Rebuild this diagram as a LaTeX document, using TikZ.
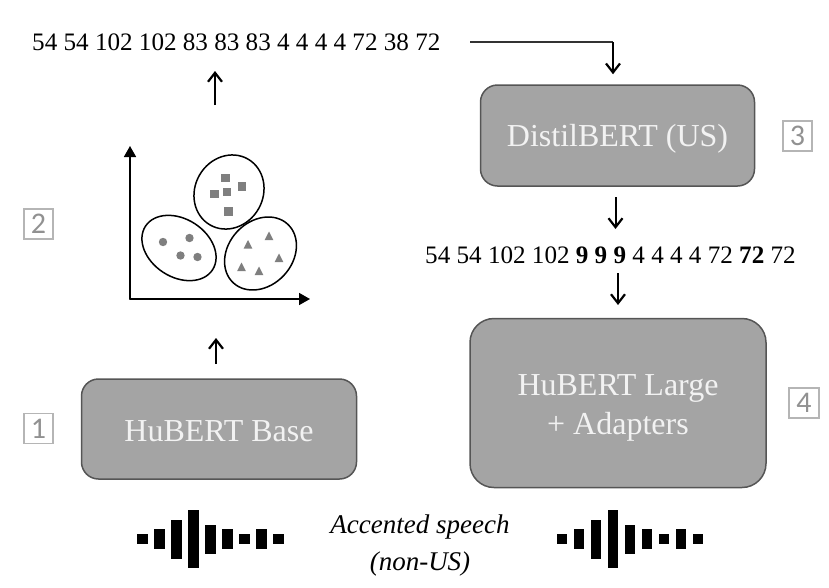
\documentclass[tikz,border=0pt]{standalone}
\usepackage{fontspec}
\setmainfont{Liberation Serif}
\newfontfamily\boxnum{Carlito}
\usetikzlibrary{arrows.meta}
\definecolor{boxfill}{HTML}{A4A4A4}
\definecolor{boxedge}{HTML}{555555}
\definecolor{mark}{HTML}{7F7F7F}
\definecolor{tagc}{HTML}{B5B5B5}
\tikzset{x=1pt,y=-1pt,
 modelbox/.style={draw=boxedge,line width=1.5pt,fill=boxfill,rounded corners=17pt,inner sep=0pt},
 modeltext/.style={text=white!95!black,align=center,font=\fontsize{32}{39}\selectfont,inner sep=0pt},
 tag/.style={draw=tagc,line width=1.7pt,text=tagc!80!black,font=\boxnum\fontsize{30}{30}\selectfont,minimum width=29.5pt,minimum height=30pt,inner sep=0pt},
 seq/.style={font=\fontsize{25.12}{30}\selectfont,inner sep=0pt,text=black},
 flow/.style={line width=2pt,-{Straight Barb[length=9pt,width=14pt,line width=2.2pt]}},
 axisline/.style={line width=1.6pt,-{Triangle[length=11pt,width=12pt]}},
 cluster/.style={draw=black,line width=1.5pt},
 pt/.style={fill=mark,draw=none},
 bar/.style={fill=black,draw=none}}
\begin{document}
\begin{tikzpicture}
\useasboundingbox (0,0) rectangle (829,587);
% model boxes
\node[modelbox,minimum width=275pt,minimum height=100pt] (base) at (219,429) {};
\node[modeltext] (baseT) at (219,431) {HuBERT Base};
\node[modelbox,minimum width=274pt,minimum height=101pt] (distil) at (617.5,135.5) {};
\node[modeltext] (distilT) at (617.5,139) {DistilBERT (US)};
\node[modelbox,minimum width=296pt,minimum height=169pt,rounded corners=24pt] (large) at (618,403) {};
\node[modeltext] (largeT) at (618,408) {HuBERT Large\\+ Adapters};
% tags
\node[tag] (t1) at (38.5,428.5) {1};
\node[tag] (t2) at (38.5,224) {2};
\node[tag] (t3) at (797.5,136) {3};
\node[tag] (t4) at (804,403) {4};
% sequences
\node[seq,anchor=west] (s1) at (32,42) {54 54 102 102 83 83 83 4 4 4 4 72 38 72};
\node[seq,anchor=west] (s2) at (425,255) {54 54 102 102 \textbf{9 9 9} 4 4 4 4 72 \textbf{72} 72};
% speech text
\node[font=\itshape\fontsize{27}{37}\selectfont,align=center,inner sep=0pt] (speech) at (420,545) {Accented speech\\(non-US)};
% connectors
\coordinate (s1end) at (470,42);
\coordinate (elbow) at (613,42);
\coordinate (clTop) at (215,105);
\coordinate (clBot) at (215,71);
\coordinate (upA) at (216,364);
\coordinate (upB) at (216,338);
\draw[line width=1.1pt,draw=black!80] (s1end) -- (elbow);
\draw[flow] (elbow) -- ([xshift=-4.5pt,yshift=10pt]distil.north);
\draw[flow] (clTop) -- (clBot);
\draw[flow] (upA) -- (upB);
\coordinate (d1) at (615.5,197);
\coordinate (d2) at (615.5,229);
\coordinate (e1) at (618,273);
\coordinate (e2) at (618,305);
\draw[flow] (d1) -- (d2);
\draw[flow] (e1) -- (e2);
% scatter axes
\coordinate (org) at (130,299);
\coordinate (ytop) at (130,146);
\coordinate (xend) at (310,299);
\draw[axisline,line cap=round] (org) -- (ytop);
\draw[axisline,line cap=round] (org) -- (xend);
% clusters
\draw[cluster,rotate around={60:(229,192)}] (229,192) ellipse [x radius=38,y radius=34];
\draw[cluster,rotate around={-33:(179,248)}] (179,248) ellipse [x radius=40,y radius=29];
\draw[cluster,rotate around={47:(260.5,253.5)}] (260.5,253.5) ellipse [x radius=40,y radius=32];
% squares
\foreach \px/\py in {225.7/178,242/186.7,214.3/194,227/192,228.3/211.7}
  \fill[pt] (\px-4.3,\py-4.3) rectangle (\px+4.3,\py+4.3);
% circles
\foreach \px/\py in {163/242,189.5/238,180.5/255.5,197.5/257}
  \fill[pt] (\px,\py) circle [radius=4.2];
% triangles
\foreach \px/\py in {248/244.5,269/236,279/258,241.5/267,259/271}
  \fill[pt] (\px-4.3,\py+4) -- (\px+4.3,\py+4) -- (\px,\py-4.5) -- cycle;
% waveforms
\foreach \ox in {0,419.5}{
 \foreach \i/\h in {0/10,1/19.5,2/39,3/58.7,4/29,5/19.5,6/10,7/19.5,8/10}
  \fill[bar] ({\ox+142.5+17*\i-5.2},539-\h/2) rectangle ({\ox+142.5+17*\i+5.2},539+\h/2);
 }
\end{tikzpicture}
\end{document}
